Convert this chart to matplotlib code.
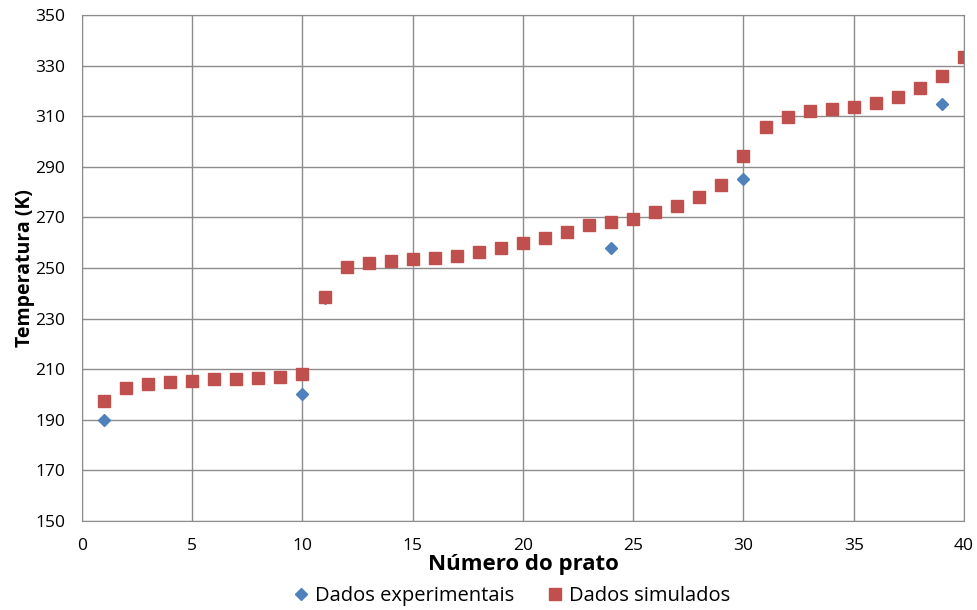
import matplotlib.pyplot as plt
import numpy as np

plt.rcParams['font.family'] = ['Open Sans', 'DejaVu Sans']

# numero do prato e temperaturas (K)
pratos_sim = np.arange(1, 41)
temp_sim = [197.5, 202.4, 204.2, 204.8, 205.2, 206.0, 206.0, 206.4, 206.9, 208.0,
            238.7, 250.5, 252.0, 252.9, 253.4, 254.1, 254.9, 256.3, 258.0, 259.9,
            261.9, 264.2, 266.9, 268.2, 269.5, 272.0, 274.6, 278.2, 282.8, 294.4,
            305.6, 309.8, 311.9, 312.7, 313.8, 315.3, 317.6, 321.1, 326.0, 333.5]

pratos_exp = [1, 10, 11, 24, 30, 39]
temp_exp = [190.0, 200.0, 238.0, 258.0, 285.0, 315.0]

fig = plt.figure(figsize=(9.78, 6.10), dpi=100)
ax = fig.add_axes([82/978, 89/610, 882/978, 506/610])

ax.plot(pratos_exp, temp_exp, linestyle='none', marker='D', markersize=6.5,
        color='#4F81BD', label='Dados experimentais')
ax.plot(pratos_sim, temp_sim, linestyle='none', marker='s', markersize=8.5,
        color='#C0504D', label='Dados simulados')

ax.set_xlim(0, 40)
ax.set_ylim(150, 350)
ax.set_xticks(np.arange(0, 41, 5))
ax.set_yticks(np.arange(150, 351, 20))
ax.grid(True, color='#8c8c8c', linewidth=1.0)
ax.set_axisbelow(True)
for s in ax.spines.values():
    s.set_color('#8c8c8c')
ax.tick_params(length=0, labelsize=12.5, pad=12)

ax.set_xlabel('Número do prato', fontsize=16, fontweight='bold', labelpad=0)
ax.set_ylabel('Temperatura (K)', fontsize=14, fontweight='bold', labelpad=0)

ax.legend(loc='upper center', bbox_to_anchor=(0.486, -0.092), ncol=2, frameon=False,
          fontsize=14.5, handletextpad=0.2, columnspacing=1.5, handlelength=1.0)

fig.savefig('out.png', dpi=100)
